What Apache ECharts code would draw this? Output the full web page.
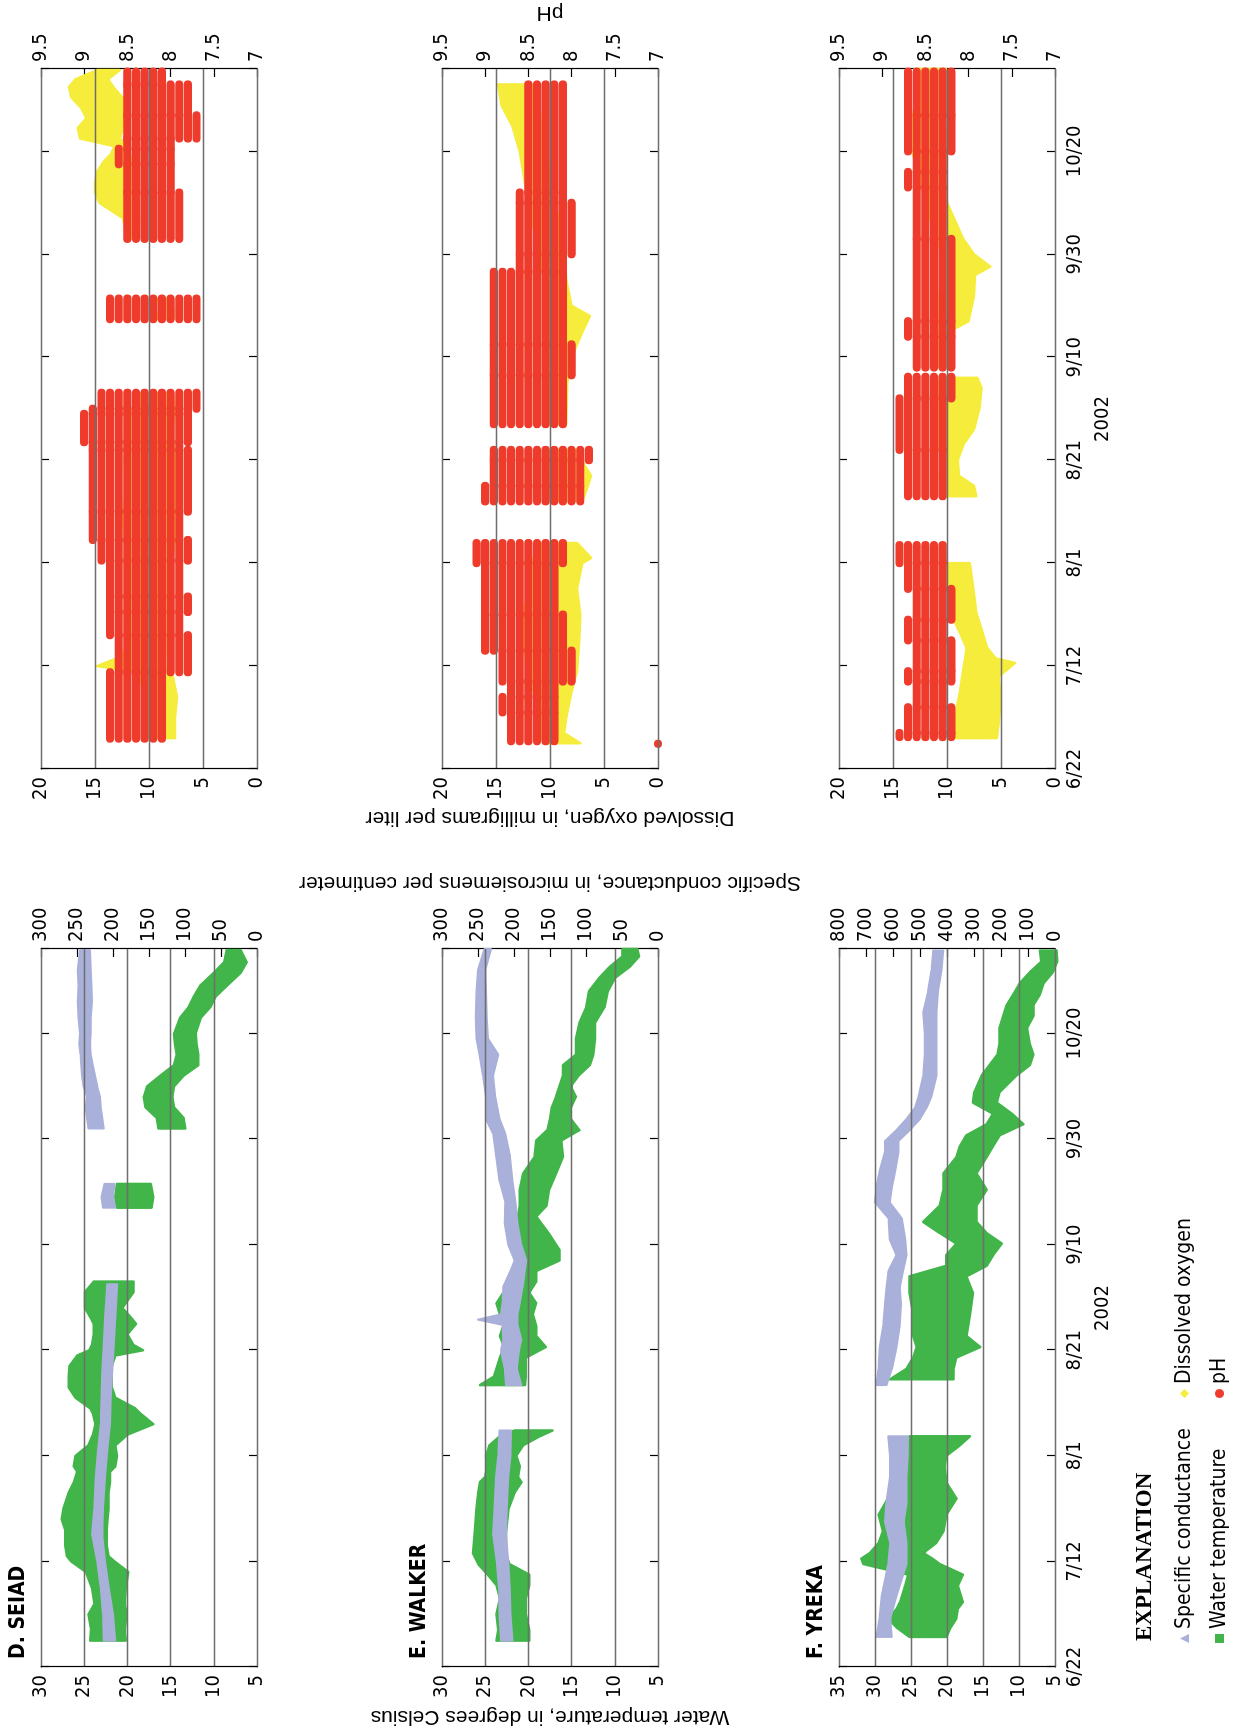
<!DOCTYPE html>
<html><head><meta charset="utf-8">
<script src="https://cdn.jsdelivr.net/npm/echarts/dist/echarts.min.js"></script>
<style>
html,body{margin:0;padding:0;width:1235px;height:1731px;overflow:hidden;background:#fff;}
#chart{position:absolute;left:0;top:0;width:1731px;height:1235px;transform-origin:0 0;transform:translate(0,1731px) rotate(-90deg);}
</style></head><body><div id="chart"></div>
<script>
// ---- DATA (day 0 = June 22, 2002) ----
const dayTicks = [0, 20, 40, 60, 80, 100, 120];
const dayLabels = ['6/22', '7/12', '8/1', '8/21', '9/10', '9/30', '10/20'];
const panelTitles = ['D. SEIAD', 'E. WALKER', 'F. YREKA'];
const yearLabel = '2002';
const tempRanges = [[5, 30], [5, 30], [5, 35]];
const condRanges = [[0, 300, 50], [0, 300, 50], [0, 800, 100]];

// bands: [day, min, max]; [day, null, null] marks a gap
const seiadTemp = [[5,20.2,24.3],[7,20.3,24.2],[10,20.1,24.5],[12,20.3,23.8],[15,20.2,24.1],[18,19.9,24.8],[20,21.5,26.5],[21,22.2,27.0],[23,22.4,27.2],[26,22.4,27.2],[28,22.3,27.6],[30,22.2,27.4],[33,22.2,26.8],[35,22.0,26.2],[37,22.0,25.8],[38,21.4,26.2],[40,21.2,26.0],[42,21.4,24.5],[44,20.0,24.0],[46,17.0,23.7],[48,18.5,24.0],[49,19.1,24.3],[51,21.4,26.0],[53,21.8,26.8],[55,21.8,26.8],[57,21.8,26.7],[59,21.4,25.8],[60,18.2,24.4],[61,19.3,24.1],[63,20.0,23.9],[65,19.0,23.9],[66,19.5,24.2],[68,20.6,24.9],[71,19.3,24.9],[73,19.3,23.9],[74,null,null],
  [87,17.2,21.2],[89,17.0,21.4],[91.5,17.3,21.2],[92,null,null],
  [102,13.3,16.4],[104,13.5,16.6],[106,14.6,17.9],[108,14.8,18.1],[110,14.6,17.7],[112,13.5,16.2],[114,11.8,14.6],[116,11.8,14.3],[118,12.0,14.5],[120,12.1,14.6],[123,11.5,13.9],[125,10.4,12.9],[127,9.8,12.3],[129,8.5,11.6],[131.5,6.9,10.0],[133.5,6.2,8.8],[135.8,6.9,8.5]];
const seiadCond = [[5,197,213],[10,200,214],[15,206,217],[20,211,222],[25,215,229],[30,214,226],[36,211,224],[41,208,221],[46,204,217],[51,203,216],[56,201,215],[61,199,213],[66,197,211],[72.5,194,208],[73,null,null],
  [87,197,214],[89,200,216],[91.5,198,212],[92,null,null],
  [102,213,234],[104,215,236],[106,217,238],[108,218,236],[110,222,241],[112,225,243],[114,228,244],[116,231,245],[118,232,247],[120,231,246],[123,231,248],[126,229,249],[129,230,248],[132,231,249],[135.8,232,246]];
const seiadDO = [[6,7.6,10.5],[10,7.6,10.3],[14,7.4,10.2],[18,7.8,11.0],[19,8.3,11.5],[20,8.5,14.8],[21.5,8.5,13.0],[23,8.4,12.3],[25,8.4,11.8],[30,8.0,12.0],[35,7.8,12.2],[40,7.9,12.0],[45,7.6,12.3],[50,7.5,12.4],[55,7.6,12.0],[60,7.5,12.3],[65,7.8,11.8],[70,7.6,11.5],[73,7.8,11.2],[74,null,null],
  [87.4,7.7,9.4],[89,7.7,9.0],[91.4,7.9,9.2],[92,null,null],
  [103,11.0,12.0],[105,11.0,12.2],[107,10.9,12.4],[108.5,11.0,13.5],[110,11.1,14.6],[112,11.2,15.0],[114,11.2,15.0],[116,11.3,14.8],[118,11.5,14.2],[119.5,11.8,13.5],[121,12.0,13.2],[122.5,12.7,16.4],[124.5,12.4,16.6],[126.5,11.8,15.8],[128.5,11.9,16.3],[130.5,12.5,17.2],[132.5,13.3,17.4],[134,13.8,16.8],[135.8,12.7,14.8]];
// pH: [startDay, endDay, minPH, maxPH] (readings at 0.1 steps)
const seiadPH = [[5.9,18.8,8.1,8.7],[18.8,26,7.8,8.6],[26,30.5,7.9,8.7],[30.5,33.5,7.8,8.7],[33.5,40.5,7.9,8.7],[40.5,44.5,7.8,8.8],[44.5,50,7.9,8.9],[50,62,7.8,8.9],[62,63.5,7.9,8.9],[63.5,69,7.8,9.0],[69,70,7.8,8.9],[70,73.1,7.7,8.8],
  [87.4,91.4,7.7,8.7],
  [103,112,7.9,8.5],[112,117.5,8.0,8.5],[117.5,120.5,8.0,8.6],[120.5,122.5,8.0,8.5],[122.5,127,7.7,8.5],[127,133,7.8,8.5],[133,135.5,8.1,8.5]];

const walkerTemp = [[5,19.9,23.7],[7,19.9,23.5],[10,20.3,23.7],[13,20.3,23.3],[15.5,19.9,23.7],[17.5,19.9,24.7],[19.5,22.2,25.8],[21.5,22.6,26.4],[25.5,22.6,26.2],[30,22.3,26.0],[33,21.6,25.8],[35,20.8,25.6],[36,21.2,25.0],[38,21.0,24.8],[40,21.4,24.9],[42,20.6,24.5],[43.7,18.7,23.3],[44.8,17.2,21.6],[45,null,null],
  [53.4,20.4,25.6],[55,20.3,24.0],[56.5,20.3,23.7],[58.6,20.3,23.3],[60.6,18.0,22.8],[62.7,19.1,23.3],[64.7,19.1,22.9],[66.8,19.5,23.3],[68.9,19.1,23.7],[70.9,19.9,22.9],[73,19.1,22.2],[75,19.1,20.6],[77,16.4,21.0],[79,16.4,21.0],[82,17.6,21.0],[85.3,19.1,21.2],[87.4,17.9,21.0],[90.4,17.6,21.0],[93.5,16.8,20.6],[96.6,16.0,19.3],[99.7,16.2,19.1],[101.7,14.1,17.8],[103.8,15.1,17.5],[105.9,15.1,17.3],[108,14.5,16.8],[110,15.1,16.4],[112,14.2,16.0],[114,12.9,16.0],[116,12.5,14.5],[119,12.3,14.5],[122,12.3,14.1],[125,11.2,13.3],[128,10.8,13.0],[130.5,10.0,11.8],[132.6,8.3,10.6],[134.6,7.2,9.1],[136,7.4,9.1]];
const walkerCond = [[5,202,218],[10,205,220],[15,206,221],[20,208,224],[25,211,229],[30,210,227],[36,208,225],[40,205,222],[44.8,204,220],[45,null,null],
  [53.4,190,211],[56.5,196,213],[60,193,218],[62,190,215],[64.8,195,216],[65.8,195,250],[66.8,195,218],[69,192,216],[72,188,215],[75,185,205],[77,183,199],[80,190,208],[84,195,213],[88,198,212],[92,202,220],[97,206,225],[101,212,229],[103.8,220,239],[108,226,239],[112,229,243],[116,222,248],[119,236,252],[123,238,253],[128,239,252],[132,240,250],[136,232,241]];
const walkerDO = [[5,7.2,10.5],[7,8.7,11.0],[10,8.5,11.2],[15,8.0,11.5],[19,7.5,12.0],[25,7.3,12.5],[30,7.2,12.5],[35,7.5,12.0],[40,7.0,11.8],[41,6.2,11.5],[43.9,7.5,11.0],[44,null,null],
  [52,7.0,10.5],[55,6.5,10.2],[57,6.2,10.2],[59,6.8,10.0],[62,7.5,10.0],[63,null,null],
  [67,8.5,10.5],[75,8.4,10.6],[80,8.0,10.5],[84,7.2,10.4],[88,6.3,10.4],[90,8.0,10.3],[95,8.5,10.5],[100,8.6,11.0],[105,9.0,11.5],[110,9.5,12.0],[115,10.0,12.4],[120,10.3,12.8],[125,10.8,13.5],[129,11.0,14.5],[133,11.2,14.8]];
const walkerPH = [[4.9,4.9,7.0,7.0],[5.4,11,8.2,8.7],[11,14,8.2,8.8],[14,17,8.2,8.7],[17,23,8.0,8.8],[23,30,8.1,9.0],[30,40,8.2,9.0],[40,43.9,8.1,9.1],
  [52,55,7.9,9.0],[55,60,7.9,8.9],[60,62,7.8,8.9],
  [67,76.5,8.1,8.9],[76.5,82.5,8.0,8.9],[82.5,96.6,8.1,8.9],[96.6,100,8.1,8.6],[100,110,8.0,8.6],[110,112,8.1,8.6],[112,133,8.1,8.5]];

const yrekaTemp = [[5.7,20.1,25.2],[7.5,19.5,27.0],[9.2,18.7,28.2],[11,18.5,27.0],[12.3,17.8,26.5],[15.4,18.5,25.8],[17.5,17.8,25.4],[19.5,21.0,31.6],[20.5,22.0,31.9],[21.6,23.3,30.7],[23.5,21.5,29.5],[25.7,20.5,28.9],[28.8,20.1,29.5],[31.9,18.7,28.2],[35,20.1,27.0],[38,20.3,25.6],[40,20.1,25.4],[42,18.2,25.2],[43.7,16.8,25.2],[44,null,null],
  [54.5,19.1,27.9],[56.5,19.1,25.6],[58.6,18.7,24.7],[60.6,15.4,24.2],[62.7,17.3,24.7],[66.8,16.8,24.7],[70.9,16.4,25.2],[74,17.3,25.2],[76,14.5,20.1],[78,13.6,20.1],[80.2,12.4,18.7],[82.2,14.5,21.0],[84.3,15.9,23.3],[87.4,15.9,21.0],[90.4,14.5,20.5],[93.5,15.9,20.5],[96.6,14.5,18.7],[98.7,13.6,18.2],[100.7,12.7,17.3],[102.8,9.4,14.5],[104.8,11.0,13.6],[106.9,13.1,16.4],[108.9,12.7,16.2],[112,10.4,15.2],[114,8.5,14.1],[116,8.0,13.0],[118,8.5,12.7],[121,8.9,12.7],[123.3,8.0,12.2],[125.4,8.0,11.7],[127.4,7.1,10.8],[129.5,6.6,9.9],[131.6,5.3,8.5],[133.6,4.7,6.9],[135.7,4.8,7.1]];
const yrekaCond = [[5.7,605,661],[9.2,610,650],[13.5,587,642],[19.5,550,618],[23.5,550,610],[27.5,560,630],[31,550,625],[36,550,611],[40,545,611],[43.7,545,618],[44,null,null],
  [53.4,624,661],[56.5,604,654],[60.6,587,649],[64.7,575,636],[68.8,570,630],[71.9,575,624],[75,563,617],[78,550,587],[81,555,612],[85,568,617],[88,612,667],[91,604,661],[94,592,649],[97.6,580,630],[99.6,580,630],[101.7,538,587],[103.8,500,550],[105.9,476,519],[108,458,506],[112,439,488],[116,439,482],[120,439,482],[124,439,488],[128,433,470],[132,420,457],[135.7,414,451]];
const yrekaDO = [[6,5.4,9.4],[9,5.2,9.2],[12,5.1,9.1],[15,5.1,8.8],[18,5.2,8.6],[20.6,3.7,8.4],[21.5,5.5,8.3],[23.6,6.3,8.2],[26.5,6.7,8.8],[30.5,7.3,9.7],[35.5,7.6,10.0],[40,7.9,10.0],[40.5,null,null],
  [53,7.3,10.5],[55,7.5,10.5],[57,8.9,10.7],[60,9.0,10.5],[63,8.5,10.8],[66,7.5,11.0],[70,7.0,11.0],[74,6.8,11.0],[76,7.2,10.6],[77,null,null],
  [78,9.8,11.0],[85,9.8,11.0],[87,8.0,10.7],[92,7.5,10.7],[96,7.4,10.5],[97.6,6.0,10.3],[100,7.5,10.5],[103,8.5,11.0],[110,10.0,12.0],[115,10.2,12.5],[121,10.0,13.4],[126,10.2,13.3],[130,10.0,12.8],[136,10.1,13.0]];
const yrekaPH = [[6.2,7,8.2,8.8],[7,12,8.2,8.7],[12,17,8.3,8.6],[17,19,8.2,8.7],[19,25,8.2,8.6],[25,29,8.3,8.7],[29,35,8.2,8.6],[35,40,8.3,8.7],[40,43.5,8.3,8.8],
  [53,62,8.3,8.7],[62,72,8.3,8.8],[72,76.2,8.2,8.7],
  [78,84,8.2,8.6],[84,87,8.2,8.7],[87,103,8.2,8.6],[103,113,8.3,8.6],[113,116,8.3,8.7],[116,120,8.3,8.6],[120,127,8.2,8.7],[127,135.5,8.2,8.7]];

const tempSets = [seiadTemp, walkerTemp, yrekaTemp];
const condSets = [seiadCond, walkerCond, yrekaCond];
const doSets = [seiadDO, walkerDO, yrekaDO];
const phSets = [seiadPH, walkerPH, yrekaPH];

// ---- STYLE / LAYOUT ----
const FN = '"Liberation Sans Narrow","Arial Narrow","DejaVu Sans Condensed",sans-serif';
const FR = '"Liberation Sans",Arial,sans-serif';
const C_TEMP = '#41b549', C_COND = '#a9b0d9', C_DO = '#f5ec3c', C_PH = '#ee3b2c';
const rowTop = [41, 442, 839], rowH = 216;
const colLeft = [64, 962], colW = [718, 700];

function bandRenderer(arr, color, edge) {
  return function (params, api) {
    const i = params.dataIndex;
    if (arr[i][1] == null) return null;
    if (i > 0 && arr[i - 1][1] != null) return null;
    const up = [], lo = [];
    let j = i;
    while (j < arr.length && arr[j][1] != null) {
      up.push(api.coord([arr[j][0], arr[j][2]]));
      lo.push(api.coord([arr[j][0], arr[j][1]]));
      j++;
    }
    return { type: 'polygon', shape: { points: up.concat(lo.reverse()) },
      style: { fill: color, stroke: color, lineWidth: edge, lineJoin: 'round' } };
  };
}
function stripeRenderer(color) {
  return function (params, api) {
    const a = api.value(0), b = api.value(1), lo = api.value(2), hi = api.value(3);
    const h = 8.2, rr = h / 2, children = [];
    for (let k = Math.round(lo * 10); k <= Math.round(hi * 10); k++) {
      const p0 = api.coord([a, k / 10]), p1 = api.coord([b, k / 10]);
      children.push({ type: 'rect', shape: { x: p0[0] - rr, y: p0[1] - rr, width: Math.max(p1[0] - p0[0], 0) + h, height: h, r: rr }, style: { fill: color } });
    }
    return { type: 'group', children };
  };
}

const grids = [], xAxis = [], yAxis = [], series = [], titles = [];
const axLine = { show: true, onZero: false, lineStyle: { color: '#000', width: 1.2 } };
const tickIn = { show: true, inside: true, length: 8, lineStyle: { color: '#000', width: 1.2 } };
const lbl = { color: '#000', fontFamily: FN, fontSize: 20 };
const nameStyle = { color: '#000', fontFamily: FR, fontSize: 21 };

for (let r = 0; r < 3; r++) {
  titles.push({ text: panelTitles[r], left: 72, top: rowTop[r] - 33, padding: 0,
    textStyle: { color: '#000', fontFamily: FN, fontWeight: 'bold', fontSize: 21 } });
  for (let c = 0; c < 2; c++) {
    const g = grids.length;
    grids.push({ left: colLeft[c], top: rowTop[r], width: colW[c], height: rowH });
    xAxis.push({ type: 'value', gridIndex: g, min: 0, max: 136, interval: 20, position: 'bottom',
      axisLine: axLine, axisTick: tickIn, splitLine: { show: false },
      axisLabel: Object.assign({ show: r === 2, margin: 10, showMaxLabel: false,
        formatter: v => { const i = dayTicks.indexOf(v); return i < 0 ? '' : dayLabels[i]; } }, lbl),
      name: r === 2 ? yearLabel : '', nameLocation: 'middle', nameGap: 38,
      nameTextStyle: { color: '#000', fontFamily: FN, fontSize: 20 } });
    xAxis.push({ type: 'value', gridIndex: g, min: 0, max: 136, interval: 20, position: 'top',
      axisLine: axLine, axisTick: tickIn, splitLine: { show: false }, axisLabel: { show: false } });
    const isT = c === 0;
    const lr = isT ? tempRanges[r] : [0, 20];
    yAxis.push({ type: 'value', gridIndex: g, position: 'left', min: lr[0], max: lr[1], interval: 5, z: 3,
      axisLine: axLine, axisTick: { show: false },
      splitLine: { show: true, lineStyle: { color: '#6e6e6e', width: 1.3 } },
      axisLabel: Object.assign({ margin: 8, showMinLabel: true, showMaxLabel: true }, lbl),
      name: r === 1 ? (isT ? 'Water temperature, in degrees Celsius' : 'Dissolved oxygen, in milligrams per liter') : '',
      nameLocation: 'middle', nameRotate: 90, nameGap: isT ? 39 : 38, nameTextStyle: nameStyle });
    const rr = isT ? condRanges[r] : [7, 9.5, 0.5];
    yAxis.push({ type: 'value', gridIndex: g, position: 'right', min: rr[0], max: rr[1], interval: rr[2],
      axisLine: axLine, axisTick: tickIn, splitLine: { show: false },
      axisLabel: Object.assign({ margin: 7, showMinLabel: true, showMaxLabel: true }, lbl),
      name: r === 1 ? (isT ? 'Specific conductance, in microsiemens per centimeter' : 'pH') : '',
      nameLocation: 'middle', nameRotate: 90, nameGap: isT ? 56 : 46, nameTextStyle: nameStyle });
    if (isT) {
      series.push({ type: 'custom', name: 'Water temperature', xAxisIndex: 2 * g, yAxisIndex: 2 * g,
        data: tempSets[r], encode: { x: 0, y: [1, 2] }, renderItem: bandRenderer(tempSets[r], C_TEMP, 2.5),
        itemStyle: { color: C_TEMP }, clip: false, z: 2 });
      series.push({ type: 'custom', name: 'Specific conductance', xAxisIndex: 2 * g, yAxisIndex: 2 * g + 1,
        data: condSets[r], encode: { x: 0, y: [1, 2] }, renderItem: bandRenderer(condSets[r], C_COND, 2),
        itemStyle: { color: C_COND }, clip: false, z: 2 });
    } else {
      series.push({ type: 'custom', name: 'Dissolved oxygen', xAxisIndex: 2 * g, yAxisIndex: 2 * g,
        data: doSets[r], encode: { x: 0, y: [1, 2] }, renderItem: bandRenderer(doSets[r], C_DO, 2.5),
        itemStyle: { color: C_DO }, clip: false, z: 2 });
      series.push({ type: 'custom', name: 'pH', xAxisIndex: 2 * g, yAxisIndex: 2 * g + 1,
        data: phSets[r], encode: { x: [0, 1], y: [2, 3] }, renderItem: stripeRenderer(C_PH),
        itemStyle: { color: C_PH }, clip: false, z: 2 });
    }
  }
}
titles.push({ text: 'EXPLANATION', left: 90, top: 1134, padding: 0,
  textStyle: { color: '#000', fontFamily: '"Liberation Serif","Times New Roman",serif', fontWeight: 'bold', fontSize: 23 } });

const legTxt = { color: '#000', fontFamily: FN, fontSize: 21 };
const option = {
  animation: false,
  backgroundColor: '#fff',
  title: titles,
  grid: grids, xAxis, yAxis, series,
  legend: [
    { orient: 'vertical', left: 88, top: 1174, padding: 0, itemWidth: 9, itemHeight: 9, itemGap: 14, textStyle: legTxt,
      data: [{ name: 'Specific conductance', icon: 'triangle', itemStyle: { color: C_COND } },
             { name: 'Water temperature', icon: 'rect', itemStyle: { color: C_TEMP } }] },
    { orient: 'vertical', left: 333, top: 1174, padding: 0, itemWidth: 9, itemHeight: 9, itemGap: 14, textStyle: legTxt,
      data: [{ name: 'Dissolved oxygen', icon: 'diamond', itemStyle: { color: C_DO } },
             { name: 'pH', icon: 'circle', itemStyle: { color: C_PH } }] }
  ]
};
const chart = echarts.init(document.getElementById('chart'), null, { renderer: 'canvas', width: 1731, height: 1235 });
chart.setOption(option);
</script></body></html>
